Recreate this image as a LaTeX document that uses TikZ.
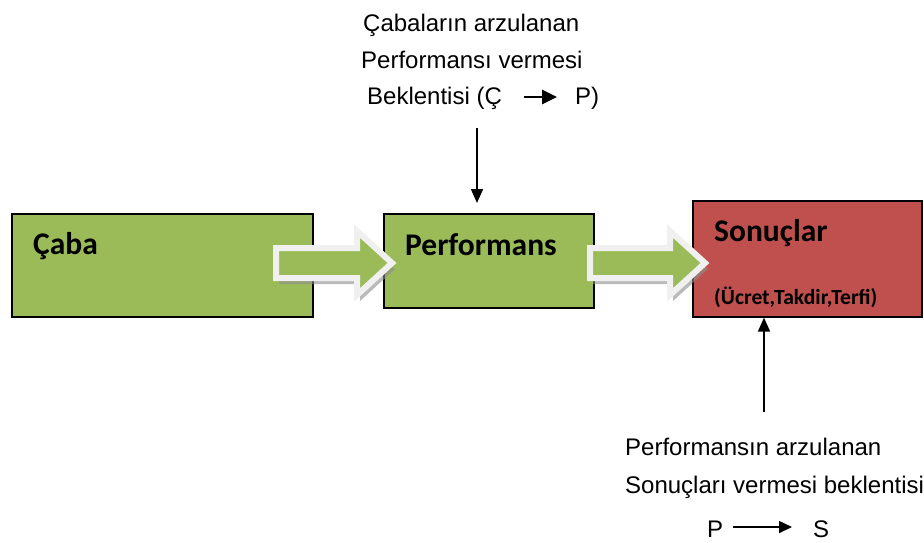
\documentclass[tikz,border=0pt]{standalone}
\usepackage{fontspec}
\setmainfont{Liberation Sans}
\newfontfamily\boxfont{Carlito}
\usepackage{xcolor}
\usepackage{tikz}
\usetikzlibrary{arrows.meta}
\definecolor{grn}{HTML}{9BBB59}
\definecolor{rd}{HTML}{C0504D}
\definecolor{ltgr}{HTML}{F0F0F0}
\tikzset{
  bx/.style={draw=black,line width=1.6pt,inner sep=0pt},
  btxt/.style={font=\boxfont\bfseries\fontsize{31.5}{33}\selectfont,anchor=base west,inner sep=0pt},
  lbl/.style={font=\fontsize{24}{26}\selectfont,anchor=base west,inner sep=0pt},
  pk/.style={line width=2.8pt,-{Triangle[length=15pt,width=14pt]}},
  sk/.style={line width=1.6pt,-{Triangle[length=14pt,width=12pt]}}
}
% block arrow: tail x, tip x
\newcommand{\barw}[2]{%
  \fill[black!45,opacity=.6] (#1+3,263-15+6) -- (#2-35+3,263-15+6) -- (#2-35+3,263-32+6) -- (#2+3,263+6) -- (#2-35+3,263+32+6) -- (#2-35+3,263+15+6) -- (#1+3,263+15+6) -- cycle;
  \draw[ltgr,line width=6pt,fill=grn,line join=miter] (#1,263-15) -- (#2-35,263-15) -- (#2-35,263-32) -- (#2,263) -- (#2-35,263+32) -- (#2-35,263+15) -- (#1,263+15) -- cycle;}

\begin{document}
\begin{tikzpicture}[x=1pt,y=-1pt]
\useasboundingbox (0,0) rectangle (924,542);
% boxes
\node[bx,fill=grn,minimum width=301pt,minimum height=103pt,anchor=north west] (caba) at (11,213) {};
\node[bx,fill=grn,minimum width=210pt,minimum height=94pt,anchor=north west] (perf) at (383,213) {};
\node[bx,fill=rd,minimum width=229pt,minimum height=116pt,anchor=north west] (son) at (692,200) {};
\node[btxt] (tcaba) at (33,254) {Çaba};
\node[btxt] (tperf) at (405,255) {Performans};
\node[btxt] (tson) at (714,241) {Sonuçlar};
\node[btxt,font=\boxfont\bfseries\fontsize{21.6}{23}\selectfont] (tuc) at (714,304) {(Ücret,Takdir,Terfi)};
% block arrows
\barw{276}{392}
\barw{590}{705}
% top label
\node[lbl] (l1) at (363,31) {Çabaların arzulanan};
\node[lbl] (l2) at (361,68) {Performansı vermesi};
\node[lbl] (l3) at (367,104) {Beklentisi (Ç};
\node[lbl] (l3p) at (575,104) {P)};
\draw[pk] ([shift={(22,-7)}]l3.base east) -- ([shift={(-18,-7)}]l3p.base west);
\coordinate (ta) at (477,128);
\draw[sk] (ta) -- (ta |- 0,203);
% bottom label
\node[lbl] (b1) at (625,455) {Performansın arzulanan};
\node[lbl] (b2) at (625,493) {Sonuçları vermesi beklentisi};
\node[lbl] (bp) at (707,537) {P};
\node[lbl] (bs) at (813,537) {S};
\draw[pk,line width=1.6pt,-{Triangle[length=13pt,width=12pt]}] ([shift={(10,-10)}]bp.base east) -- ([shift={(-21,-10)}]bs.base west);
\coordinate (tb) at (764,412);
\draw[sk] (tb) -- (tb |- son.south);
\end{tikzpicture}
\end{document}
